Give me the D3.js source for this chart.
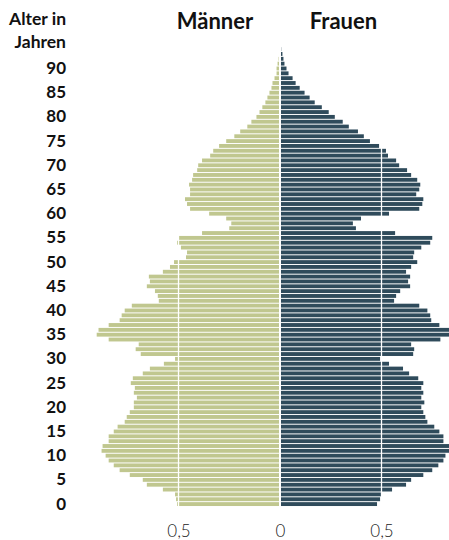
<!DOCTYPE html>
<html>
<head>
<meta charset="utf-8">
<script src="https://cdn.jsdelivr.net/npm/d3@7"></script>
<style>
  html, body { margin: 0; padding: 0; background: #fff; }
  svg { display: block; }
</style>
</head>
<body>
<svg id="chart" width="449" height="540"></svg>
<script>
// ---- data (share of population in %, by single year of age 0..94) ----
const ages = d3.range(0, 95);
const men = [
  0.507, 0.512, 0.517, 0.577, 0.656, 0.676, 0.740, 0.790, 0.819, 0.844,
  0.859, 0.879, 0.874, 0.844, 0.844, 0.819, 0.800, 0.765, 0.755, 0.740,
  0.720, 0.720, 0.705, 0.720, 0.715, 0.735, 0.725, 0.676, 0.641, 0.572,
  0.517, 0.686, 0.711, 0.696, 0.844, 0.903, 0.894, 0.844, 0.790, 0.780,
  0.765, 0.730, 0.597, 0.602, 0.616, 0.656, 0.641, 0.646, 0.577, 0.542,
  0.522, 0.463, 0.458, 0.488, 0.507, 0.498, 0.384, 0.250, 0.240, 0.265,
  0.349, 0.443, 0.458, 0.468, 0.443, 0.443, 0.448, 0.433, 0.428, 0.408,
  0.403, 0.384, 0.344, 0.329, 0.300, 0.265, 0.225, 0.196, 0.161, 0.141,
  0.116, 0.101, 0.087, 0.072, 0.062, 0.052, 0.042, 0.037, 0.027, 0.017,
  0.017, 0.012, 0.007, 0.005, 0.003
];
const women = [
  0.478, 0.493, 0.498, 0.552, 0.621, 0.646, 0.706, 0.750, 0.780, 0.805,
  0.815, 0.840, 0.840, 0.805, 0.805, 0.785, 0.760, 0.726, 0.716, 0.706,
  0.696, 0.711, 0.696, 0.706, 0.696, 0.706, 0.681, 0.636, 0.606, 0.537,
  0.493, 0.656, 0.661, 0.646, 0.790, 0.840, 0.840, 0.785, 0.745, 0.740,
  0.726, 0.686, 0.562, 0.572, 0.592, 0.641, 0.631, 0.641, 0.621, 0.646,
  0.676, 0.656, 0.661, 0.696, 0.740, 0.750, 0.567, 0.374, 0.359, 0.399,
  0.537, 0.686, 0.701, 0.706, 0.671, 0.686, 0.691, 0.676, 0.646, 0.626,
  0.587, 0.572, 0.532, 0.522, 0.488, 0.443, 0.413, 0.384, 0.339, 0.309,
  0.270, 0.240, 0.206, 0.171, 0.146, 0.121, 0.097, 0.077, 0.062, 0.042,
  0.032, 0.022, 0.017, 0.012, 0.006
];
const ageTicks = [0, 5, 10, 15, 20, 25, 30, 35, 40, 45, 50, 55, 60, 65, 70, 75, 80, 85, 90];
const xTicks = [-0.5, 0, 0.5];
const titles = ["Männer", "Frauen"];
const yTitle = ["Alter in", "Jahren"];

// ---- layout ----
const cx = 280;           // centre line
const pxPerUnit = 203;
const colMen = "#c0c78f", colWomen = "#2f4b5b";
const FONT = "Lato, 'Open Sans', 'DejaVu Sans', sans-serif";

const svg = d3.select("#chart");

const y = d3.scaleBand()
  .domain(ages.slice().reverse())
  .range([46.7, 46.7 + 95 * 4.84])
  .paddingInner(0.2)
  .paddingOuter(0.1);

const xR = d3.scaleLinear().domain([0, 1]).range([cx, cx + pxPerUnit]);
const xL = d3.scaleLinear().domain([0, 1]).range([cx, cx - pxPerUnit]);
const xAxisScale = d3.scaleLinear().domain([-1, 1]).range([cx - pxPerUnit, cx + pxPerUnit]);

const rows = ages.map((a, i) => ({ age: a, m: men[i], w: women[i] }));

// men bars
svg.append("g").selectAll("rect").data(rows).join("rect")
  .attr("x", d => xL(d.m))
  .attr("y", d => y(d.age))
  .attr("width", d => Math.max(0, xL(0) - 1 - xL(d.m)))
  .attr("height", y.bandwidth())
  .attr("fill", colMen);

// women bars
svg.append("g").selectAll("rect").data(rows).join("rect")
  .attr("x", xR(0) + 1)
  .attr("y", d => y(d.age))
  .attr("width", d => Math.max(0, xR(d.w) - xR(0) - 1))
  .attr("height", y.bandwidth())
  .attr("fill", colWomen);

// white grid lines at ±0,5
svg.append("g").selectAll("line").data([-0.5, 0.5]).join("line")
  .attr("x1", d => xAxisScale(d)).attr("x2", d => xAxisScale(d))
  .attr("y1", y.range()[0]).attr("y2", y.range()[1])
  .attr("stroke", "#fff").attr("stroke-width", 1.3);

// bottom axis
const de = d3.formatLocale({ decimal: ",", thousands: ".", grouping: [3], currency: ["", " €"] });
const fmt = de.format("~g");
const xAxis = d3.axisBottom(xAxisScale)
  .tickValues(xTicks)
  .tickSize(0)
  .tickPadding(4.5)
  .tickFormat(d => fmt(Math.abs(d)));
const gx = svg.append("g").attr("transform", "translate(0,520)").call(xAxis);
gx.select(".domain").remove();
gx.selectAll("text")
  .attr("font-family", FONT)
  .attr("font-size", 17)
  .attr("font-weight", 300)
  .attr("fill", "#222");

// left age axis
const yAxis = d3.axisLeft(y)
  .tickValues(ageTicks)
  .tickSize(0)
  .tickPadding(4);
const gy = svg.append("g").attr("transform", "translate(70,0)").call(yAxis);
gy.select(".domain").remove();
gy.selectAll("text")
  .attr("font-family", FONT)
  .attr("font-size", 17)
  .attr("font-weight", 700)
  .attr("fill", "#111");

// y title
svg.append("g").selectAll("text").data(yTitle).join("text")
  .attr("x", 66)
  .attr("y", (d, i) => 25 + i * 23)
  .attr("text-anchor", "end")
  .attr("font-family", FONT)
  .attr("font-size", 17.5)
  .attr("font-weight", 700)
  .attr("fill", "#111")
  .text(d => d);

// titles
svg.append("g").selectAll("text").data(titles).join("text")
  .attr("x", (d, i) => i === 0 ? 215 : 343.5)
  .attr("y", 29)
  .attr("text-anchor", "middle")
  .attr("font-family", FONT)
  .attr("font-size", 22)
  .attr("font-weight", 700)
  .attr("fill", "#111")
  .text(d => d);
</script>
</body>
</html>
